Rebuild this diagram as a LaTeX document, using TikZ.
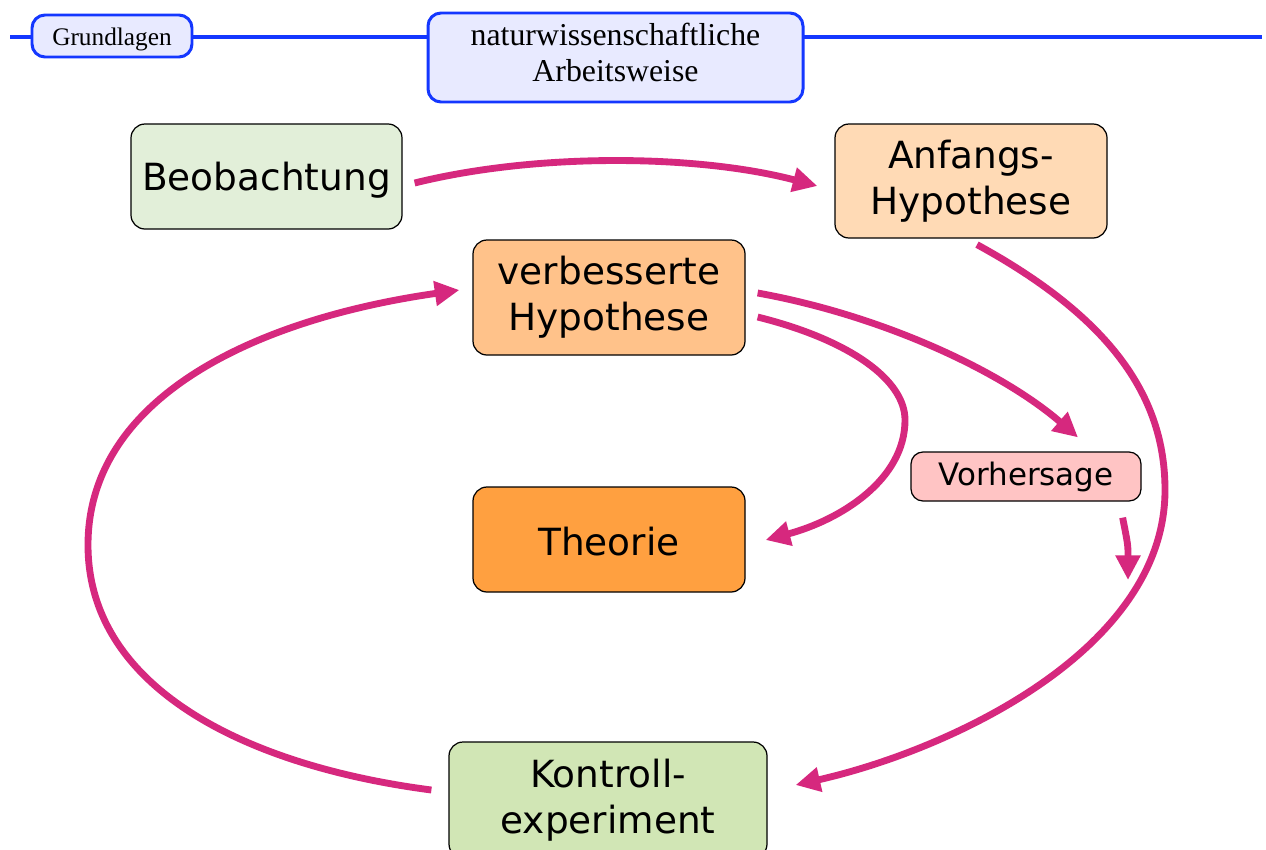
\documentclass[tikz,border=0pt]{standalone}
\usepackage{fontspec}
\setmainfont{Liberation Serif}
\newfontfamily\boxfont{DejaVu Sans}
\usetikzlibrary{arrows.meta,calc}
\definecolor{mag}{RGB}{214,40,126}
\definecolor{hblue}{RGB}{20,55,255}
\definecolor{hfill}{RGB}{232,234,255}
\definecolor{cbeo}{RGB}{226,239,217}
\definecolor{canf}{RGB}{255,218,181}
\definecolor{cverb}{RGB}{255,194,138}
\definecolor{ctheo}{RGB}{255,160,64}
\definecolor{cvor}{RGB}{255,196,196}
\definecolor{ckon}{RGB}{209,230,181}
\begin{document}
\begin{tikzpicture}[x=0.02cm,y=-0.02cm,
  hdrline/.style={draw=hblue,line width=2.3pt},
  hdrbox/.style={draw=hblue,fill=hfill,line width=1.7pt,rounded corners=0.26cm,inner sep=0pt,align=center,text=black},
  box/.style={draw=black,line width=0.7pt,rounded corners=0.28cm,inner sep=0pt,align=center,
    font=\boxfont\fontsize{21.3}{26}\selectfont},
  conn/.style={draw=mag,line width=3.9pt,-{Triangle[length=14pt,width=13.5pt]}}
]
\clip (0,0) rectangle (1266,849);
\fill[white] (0,0) rectangle (1266,849);
% header
\coordinate (lstart) at (10,37);
\coordinate (lend) at (1262,37);
\draw[hdrline] (lstart) -- (lend);
\node[hdrbox,minimum width=160*0.02cm,minimum height=42*0.02cm,font=\fontsize{14.4}{17}\selectfont] (grund) at (112,36) {\raisebox{-1.7pt}[\height][\depth]{Grundlagen}};
\node[hdrbox,minimum width=375*0.02cm,minimum height=89*0.02cm,font=\fontsize{18.1}{20.4}\selectfont] (head) at (615.5,57.5) {\raisebox{0.6pt}[\height][\depth]{\begin{tabular}{@{}c@{}}naturwissenschaftliche\\Arbeitsweise\end{tabular}}};
% boxes
\node[box,fill=cbeo,minimum width=271*0.02cm,minimum height=105*0.02cm] (beo) at (266.5,176.5) {\raisebox{-2.3pt}[\height][\depth]{Beobachtung}};
\node[box,fill=canf,minimum width=272*0.02cm,minimum height=114*0.02cm] (anf) at (971,181) {Anfangs-\\Hypothese};
\node[box,fill=cverb,minimum width=272*0.02cm,minimum height=115*0.02cm] (verb) at (609,297.5) {verbesserte\\Hypothese};
\node[box,fill=ctheo,minimum width=272*0.02cm,minimum height=105*0.02cm] (theo) at (609,539.5) {\raisebox{-1pt}[\height][\depth]{Theorie}};
\node[box,fill=cvor,minimum width=230*0.02cm,minimum height=49*0.02cm,rounded corners=0.24cm,font=\boxfont\fontsize{17.6}{21}\selectfont] (vor) at (1026,476.5) {Vorhersage};
\node[box,fill=ckon,minimum width=318*0.02cm,minimum height=116*0.02cm] (kon) at (608,800) {Kontroll-\\experiment};
% connectors
\draw[conn] ([shift={(12,6.5)}]beo.east) .. controls (540,152) and (700,155) .. ([shift={(-17,5)}]anf.west);
\draw[conn] ([shift={(6,6)}]anf.south) .. controls (1115,320) and (1165,400) .. (1165,490)
   .. controls (1165,650) and (950,750) .. ([shift={(28,-15)}]kon.east);
\draw[conn] ([shift={(12,-4.5)}]verb.east) .. controls (880,315) and (1000,370) .. ([shift={(52,-14)}]vor.north);
\draw[conn] ([shift={(12,19.5)}]verb.east) .. controls (850,340) and (905,380) .. (905,420)
   .. controls (905,480) and (840,520) .. ([shift={(20,0.5)}]theo.east);
\coordinate (vtarget) at (1128,580);
\draw[conn] ([shift={(-19,16)}]vor.south east) .. controls (1128,545) .. (vtarget);
\draw[conn] ([shift={(-17,-10)}]kon.west) .. controls (240,765) and (88,685) .. (88,545)
   .. controls (88,400) and (250,320) .. ([shift={(-13,-7.5)}]verb.west);
\end{tikzpicture}
\end{document}
